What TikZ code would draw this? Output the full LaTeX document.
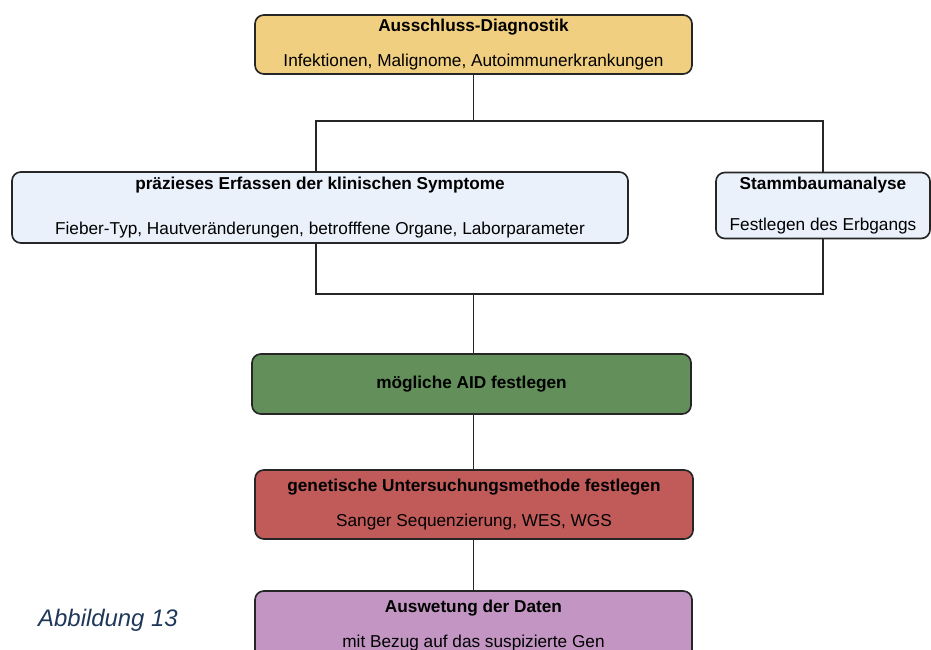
\documentclass[tikz,border=0pt]{standalone}
\usepackage{fontspec}
\setmainfont{Liberation Sans}
\definecolor{exclyellow}{RGB}{240, 207, 128}
\definecolor{paleblue}{RGB}{234, 241, 251}
\definecolor{aidgreen}{RGB}{98, 143, 90}
\definecolor{genred}{RGB}{193, 91, 90}
\definecolor{datpurple}{RGB}{194, 149, 195}
\definecolor{captionblue}{RGB}{31, 56, 90}
\usetikzlibrary{positioning, calc}

\begin{document}
\begin{tikzpicture}[
  stepbox/.style={draw=black!85, line width=0.95pt, rounded corners=5pt, align=center, inner sep=0pt, font=\fontsize{9.8}{19.5}\selectfont},
  link/.style={draw=black!85, line width=1pt}
]
  \useasboundingbox (0,0) rectangle (18.62,-13);
  \node[stepbox, fill=exclyellow, minimum width=8.74cm, minimum height=1.18cm] (aus) at (9.47,-0.89) {\textbf{Ausschluss-Diagnostik}\\Infektionen, Malignome, Autoimmunerkrankungen};
  \node[stepbox, fill=paleblue, minimum width=12.32cm, minimum height=1.42cm] (sym) at (6.40,-4.15) {\textbf{präzieses Erfassen der klinischen Symptome}\\[6.5pt]Fieber-Typ, Hautveränderungen, betrofffene Organe, Laborparameter};
  \node[stepbox, fill=paleblue, minimum width=4.28cm, minimum height=1.32cm] (stb) at (16.46,-4.11) {\textbf{Stammbaumanalyse}\\[3.5pt]Festlegen des Erbgangs};
  \node[stepbox, fill=aidgreen, minimum width=8.78cm, minimum height=1.2cm] (aid) at (9.43,-7.68) {\textbf{mögliche AID festlegen}};
  \node[stepbox, fill=genred, minimum width=8.76cm, minimum height=1.38cm] (gen) at (9.48,-10.09) {\textbf{genetische Untersuchungsmethode festlegen}\\Sanger Sequenzierung, WES, WGS};
  \node[stepbox, fill=datpurple, minimum width=8.74cm, minimum height=1.38cm] (dat) at (9.47,-12.51) {\textbf{Auswetung der Daten}\\mit Bezug auf das suspizierte Gen};
  \node[font=\fontsize{13.6}{16}\selectfont\itshape, text=captionblue] (cap) at (2.16,-12.4) {Abbildung 13};

  \draw[link] (aus.south) -- ++(0,-0.92) coordinate (top);
  \draw[link] ([xshift=-0.08cm]sym.north) |- (top) -| (stb.north);
  \draw[link] (aus.south |- aid.north) -- ++(0,1.18) coordinate (bot);
  \draw[link] ([xshift=-0.08cm]sym.south) |- (bot) -| (stb.south);
  \draw[link] (aus.south |- aid.south) -- (aus.south |- gen.north);
  \draw[link] (aus.south |- gen.south) -- (aus.south |- dat.north);
\end{tikzpicture}
\end{document}
